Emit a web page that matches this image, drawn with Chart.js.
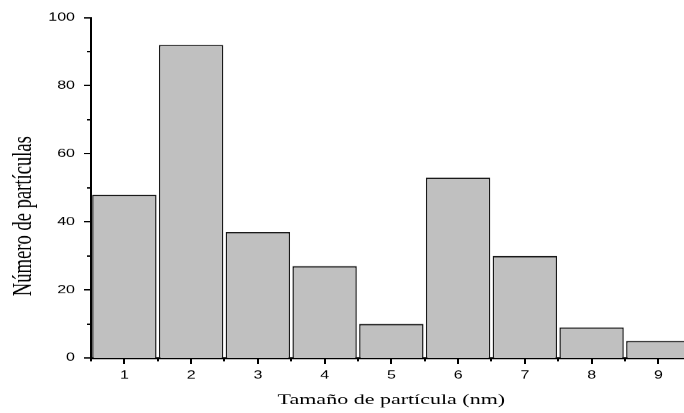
<!DOCTYPE html>
<html>
<head>
<meta charset="utf-8">
<script src="https://cdn.jsdelivr.net/npm/chart.js@4/dist/chart.umd.min.js"></script>
<style>
  html, body { margin: 0; padding: 0; background: #fff; overflow: hidden; width: 684px; height: 413px; }
  /* the original figure is vertically squashed: draw at 600px tall and scale to 413px */
  #stage { width: 700px; height: 600px; position: absolute; left: 0; top: 0;
           transform: scaleY(0.68833); transform-origin: 0 0; }
</style>
</head>
<body>
<div id="stage"><canvas id="c"></canvas></div>
<script>
const categories = ['1', '2', '3', '4', '5', '6', '7', '8', '9'];
const counts = [48, 92, 37, 27, 10, 53, 30, 9, 5];
const yMajorTicks = [0, 20, 40, 60, 80, 100];
const yMinorTicks = [10, 30, 50, 70, 90];
const xTitle = 'Tamaño de partícula (nm)';
const yTitle = 'Número de partículas';

const tickPlugin = {
  id: 'originTicks',
  afterDraw(chart) {
    const ctx = chart.ctx;
    const xs = chart.scales.x, ys = chart.scales.y;
    const left = chart.chartArea.left, bottom = chart.chartArea.bottom;
    ctx.save();
    ctx.strokeStyle = '#000';
    ctx.lineWidth = 2;
    ctx.beginPath();
    yMajorTicks.forEach(v => { const p = Math.round(ys.getPixelForValue(v)); ctx.moveTo(left - 7, p); ctx.lineTo(left, p); });
    yMinorTicks.forEach(v => { const p = Math.round(ys.getPixelForValue(v)); ctx.moveTo(left - 4, p); ctx.lineTo(left, p); });
    ctx.stroke();
    ctx.lineWidth = 2;
    ctx.beginPath();
    categories.forEach((c, i) => { const p = Math.round(xs.getPixelForValue(i)); ctx.moveTo(p, bottom); ctx.lineTo(p, bottom + 9); });
    for (let i = 0; i <= categories.length; i++) {
      const p = Math.round(xs.getPixelForValue(i - 0.5));
      ctx.moveTo(p, bottom); ctx.lineTo(p, bottom + 5);
    }
    ctx.stroke();
    // y-axis title
    ctx.fillStyle = '#000';
    ctx.font = '27px "Liberation Serif", "Times New Roman", serif';
    ctx.textAlign = 'center';
    ctx.textBaseline = 'middle';
    ctx.translate(24, 314);
    ctx.rotate(-Math.PI / 2);
    ctx.fillText(yTitle, 0, 0);
    ctx.restore();
    // x-axis title
    ctx.save();
    ctx.fillStyle = '#000';
    ctx.font = '22px "Liberation Serif", "Times New Roman", serif';
    ctx.textAlign = 'center';
    ctx.textBaseline = 'middle';
    ctx.fillText(xTitle, (chart.chartArea.left + chart.chartArea.right) / 2, 581);
    ctx.restore();
  }
};

new Chart(document.getElementById('c'), {
  type: 'bar',
  data: {
    labels: categories,
    datasets: [{
      data: counts,
      backgroundColor: '#c0c0c0',
      borderColor: '#1a1a1a',
      borderWidth: { left: 1.5, right: 1.5, top: 2.2, bottom: 0 },
      borderSkipped: false,
      barPercentage: 0.965,
      categoryPercentage: 1.0
    }]
  },
  options: {
    responsive: true,
    maintainAspectRatio: false,
    animation: false,
    devicePixelRatio: 1,
    layout: { padding: { left: 0, right: 8.3, top: 22, bottom: 0 } },
    plugins: { legend: { display: false }, tooltip: { enabled: false } },
    scales: {
      x: {
        grid: { display: false, drawTicks: false },
        border: { display: true, color: '#000', width: 3 },
        ticks: { color: '#000', font: { family: '"Liberation Sans", Arial, sans-serif', size: 16 }, padding: 16, maxRotation: 0 },
        afterFit(scale) { scale.height = 80; }
      },
      y: {
        min: 0, max: 100,
        afterBuildTicks(scale) { scale.ticks = yMajorTicks.map(v => ({ value: v })); },
        grid: { display: false, drawTicks: false },
        border: { display: true, color: '#000', width: 2 },
        ticks: { color: '#000', font: { family: '"Liberation Sans", Arial, sans-serif', size: 16 }, padding: 16 },
        afterFit(scale) { scale.width = 91; }
      }
    }
  },
  plugins: [tickPlugin]
});
</script>
</body>
</html>
